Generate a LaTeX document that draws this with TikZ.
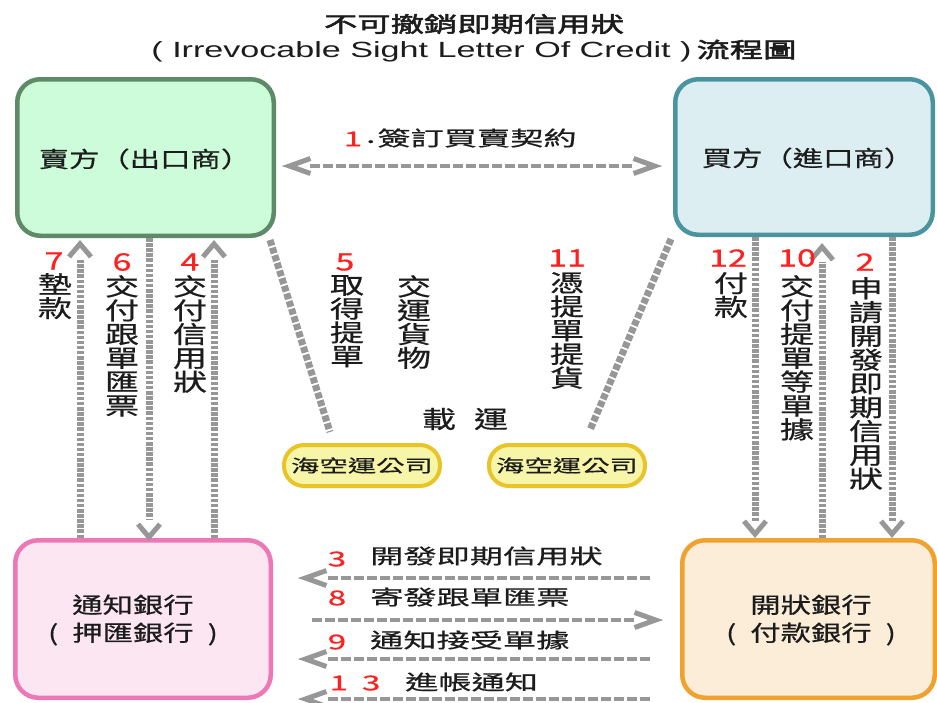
\documentclass[tikz,border=0pt]{standalone}
\usepackage{fontspec}
\usetikzlibrary{arrows.meta,calc}
\newfontfamily\cjkh[FakeStretch=1.62,FakeBold=0.6]{Noto Sans CJK TC}
\newfontfamily\cjkb[FakeStretch=1.38,FakeBold=0.6]{Noto Sans CJK TC}
\newfontfamily\cjkv[FakeStretch=1.42,FakeBold=0.6]{Noto Sans CJK TC}
\newfontfamily\cjkt[FakeStretch=1.55,FakeBold=2.5]{Noto Sans CJK TC}
\newfontfamily\latt[FakeStretch=1.55]{Liberation Sans}
\newcommand\vlabfont{\cjkv\fontsize{24}{23.8}\selectfont\lineskiplimit=-100pt\relax}
\newcommand\boxfont{\cjkb\fontsize{22}{28}\selectfont\lineskiplimit=-100pt\relax}
\definecolor{ink}{HTML}{1C1C1C}
\definecolor{numred}{HTML}{FF2020}
\definecolor{dgray}{HTML}{979797}
\definecolor{sellf}{HTML}{CCFCD9}
\definecolor{sellb}{HTML}{5E8A68}
\definecolor{buyf}{HTML}{DCEEF2}
\definecolor{buyb}{HTML}{4A94A0}
\definecolor{advf}{HTML}{FBE6F2}
\definecolor{advb}{HTML}{EC78B8}
\definecolor{issf}{HTML}{FBEDD8}
\definecolor{issb}{HTML}{EFA230}
\definecolor{shipf}{HTML}{F6F5A8}
\definecolor{shipb}{HTML}{E8C428}
\begin{document}
\begin{tikzpicture}[x=1pt,y=-1pt,
  box/.style={draw, line width=4.5pt, rounded corners=23pt, outer sep=2.25pt, inner sep=0pt},
  btext/.style={inner sep=0pt, align=center, text=ink, font=\boxfont},
  ship/.style={draw=shipb, fill=shipf, line width=4pt, rounded corners=20pt, outer sep=2pt,
    inner sep=0pt, minimum width=156pt, minimum height=41pt, text=ink,
    font=\cjkh\fontsize{17.5}{20}\selectfont},
  vlab/.style={anchor=north, align=center, inner sep=0pt, text=ink, font=\vlabfont},
  vnum/.style={inner sep=0pt, text=numred, font=\cjkv\fontsize{24}{24}\selectfont},
  hlab/.style={anchor=west, inner sep=0pt, text=ink, font=\cjkh\fontsize{20.5}{24}\selectfont},
  hnum/.style={inner sep=0pt, text=numred, font=\cjkh\fontsize{20.5}{24}\selectfont},
  vdash/.style={draw=dgray, line width=7pt, dash pattern=on 3.5pt off 1.6pt},
  hdash/.style={draw=dgray, line width=4.5pt, dash pattern=on 10pt off 3pt},
  ddash/.style={draw=dgray, line width=7pt, dash pattern=on 6pt off 2pt},
  vtip/.style={draw=dgray, line width=0.1pt, -{Straight Barb[length=13pt,width=22pt,line width=5pt]}},
  htip/.style={draw=dgray, line width=0.1pt, -{Straight Barb[length=21pt,width=15pt,line width=5pt]}},
]
\useasboundingbox (0,0) rectangle (937,702);

% titles
\node[font=\cjkt\fontsize{21.5}{24}\selectfont, text=ink, inner sep=0pt] (t1) at (474,24) {不可撤銷即期信用狀};
\node[inner sep=0pt, text=ink] (t2) at (474,51) {{\latt\fontsize{22}{24}\selectfont ( Irrevocable Sight Letter Of Credit )}\hspace{5pt}{\cjkt\fontsize{21.5}{24}\selectfont 流程圖}};

% boxes
\node[box, draw=sellb, fill=sellf, minimum width=256.5pt, minimum height=156.5pt] (seller) at (145.5,157.5) {};
\node[box, draw=buyb, fill=buyf, minimum width=257.5pt, minimum height=155.5pt] (buyer) at (804,157) {};
\node[box, draw=advb, fill=advf, minimum width=255.5pt, minimum height=157.5pt] (adv) at (143,619) {};
\node[box, draw=issb, fill=issf, minimum width=252.5pt, minimum height=157.5pt] (iss) at (808.5,619) {};
\node[btext] (sellert) at (145,159) {賣方（出口商）};
\node[btext] (buyert) at (808,158) {買方（進口商）};
\node[btext] (advt) at (133,620) {通知銀行\\(\hspace{14pt}押匯銀行\hspace{14pt})};
\node[btext] (isst) at (811,620) {開狀銀行\\(\hspace{14pt}付款銀行\hspace{14pt})};

% shipping companies
\node[ship] (ship1) at (362,465.5) {海空運公司};
\node[ship] (ship2) at (567,465.5) {海空運公司};

% helper coordinates
\coordinate (c7) at (80,0);
\coordinate (c6) at (149,0);
\coordinate (c4) at (214,0);
\coordinate (c12) at (755,0);
\coordinate (c10) at (822,0);
\coordinate (c2) at (892,0);
\coordinate (r1) at (0,166);
\coordinate (r3) at (0,578);
\coordinate (r8) at (0,620);
\coordinate (r9) at (0,659);
\coordinate (r13) at (0,699);

% arrow 1
\draw[hdash] ($(seller.east |- r1)+(34,0)$) -- ($(buyer.west |- r1)+(-40,0)$);
\draw[htip] ($(seller.east |- r1)+(7,0)$) -- ($(seller.east |- r1)+(6,0)$);
\draw[htip] ($(buyer.west |- r1)+(-12,0)$) -- ($(buyer.west |- r1)+(-11,0)$);
\node[hnum] (n1) at (353,139) {1};
\node[hlab] (l1) at (366,138) {\raisebox{3pt}{.}\hspace{2pt}簽訂買賣契約};

% left verticals
\draw[vdash] (adv.north -| c7) -- ($(seller.south -| c7)+(0,22)$);
\draw[vtip] ($(seller.south -| c7)+(0,3)$) -- ($(seller.south -| c7)+(0,2)$);
\draw[vdash] (seller.south -| c6) -- ($(adv.north -| c6)+(0,-18)$);
\draw[vtip] ($(adv.north -| c6)+(0,2)$) -- ($(adv.north -| c6)+(0,3)$);
\draw[vdash] (adv.north -| c4) -- ($(seller.south -| c4)+(0,22)$);
\draw[vtip] ($(seller.south -| c4)+(0,3)$) -- ($(seller.south -| c4)+(0,2)$);
\node[vnum] (n7) at (54,261) {7};
\node[vlab] (l7) at (55,273) {墊\\款};
\node[vnum] (n6) at (122,262) {6};
\node[vlab] (l6) at (122,275) {交\\付\\跟\\單\\匯\\票};
\node[vnum] (n4) at (190,262) {4};
\node[vlab] (l4) at (190,275) {交\\付\\信\\用\\狀};

% right verticals
\draw[vdash] (buyer.south -| c12) -- ($(iss.north -| c12)+(0,-17)$);
\draw[vtip] ($(iss.north -| c12)+(0,-1)$) -- ($(iss.north -| c12)+(0,0)$);
\draw[vdash] (iss.north -| c10) -- ($(buyer.south -| c10)+(0,25)$);
\draw[vtip] ($(buyer.south -| c10)+(0,7)$) -- ($(buyer.south -| c10)+(0,6)$);
\draw[vdash] (buyer.south -| c2) -- ($(iss.north -| c2)+(0,-17)$);
\draw[vtip] ($(iss.north -| c2)+(0,-1)$) -- ($(iss.north -| c2)+(0,0)$);
\node[vnum] (n12) at (728,258) {12};
\node[vlab] (l12) at (731,272) {付\\款};
\node[vnum] (n10) at (797,258) {10};
\node[vlab] (l10) at (797,275) {交\\付\\提\\單\\等\\單\\據};
\node[vnum] (n2) at (865,262) {2};
\node[vlab] (l2) at (866,277) {申\\請\\開\\發\\即\\期\\信\\用\\狀};

% diagonals
\draw[ddash] ($(seller.south east)+(-6,2)$) -- ($(ship1.north)+(-32,-11)$);
\draw[ddash] ($(buyer.south west)+(-2,2)$) -- ($(ship2.north)+(23,-13)$);
\node[vnum] (n5) at (345,262) {5};
\node[vlab] (l5) at (347,275) {取\\得\\提\\單};
\node[vlab] (lg) at (414,275) {交\\運\\貨\\物};
\node[vnum] (n11) at (567,258) {11};
\node[vlab] (l11) at (567,272) {憑\\提\\單\\提\\貨};
\node[inner sep=0pt, text=ink, font=\cjkv\fontsize{24}{24}\selectfont] (lz) at (465,419) {載\hspace{18pt}運};

% bottom horizontals
\draw[hdash] ($(iss.west |- r3)+(-30,0)$) -- ($(adv.east |- r3)+(55,0)$);
\draw[htip] ($(adv.east |- r3)+(26,0)$) -- ($(adv.east |- r3)+(25,0)$);
\draw[hdash] ($(adv.east |- r8)+(39,0)$) -- ($(iss.west |- r8)+(-45,0)$);
\draw[htip] ($(iss.west |- r8)+(-18,0)$) -- ($(iss.west |- r8)+(-17,0)$);
\draw[hdash] ($(iss.west |- r9)+(-30,0)$) -- ($(adv.east |- r9)+(55,0)$);
\draw[htip] ($(adv.east |- r9)+(26,0)$) -- ($(adv.east |- r9)+(25,0)$);
\draw[hdash] ($(iss.west |- r13)+(-30,0)$) -- ($(adv.east |- r13)+(55,0)$);
\draw[htip] ($(adv.east |- r13)+(26,0)$) -- ($(adv.east |- r13)+(25,0)$);
\node[hnum] (n3) at (337,559) {3};
\node[hlab] (l3) at (370,556) {開發即期信用狀};
\node[hnum] (n8) at (337,598) {8};
\node[hlab] (l8) at (370,597) {寄發跟單匯票};
\node[hnum] (n9) at (337,642) {9};
\node[hlab] (l9) at (370,640) {通知接受單據};
\node[hnum] (n13) at (355,683) {1\hspace{14pt}3};
\node[hlab] (l13) at (405,682) {進帳通知};
\end{tikzpicture}
\end{document}
